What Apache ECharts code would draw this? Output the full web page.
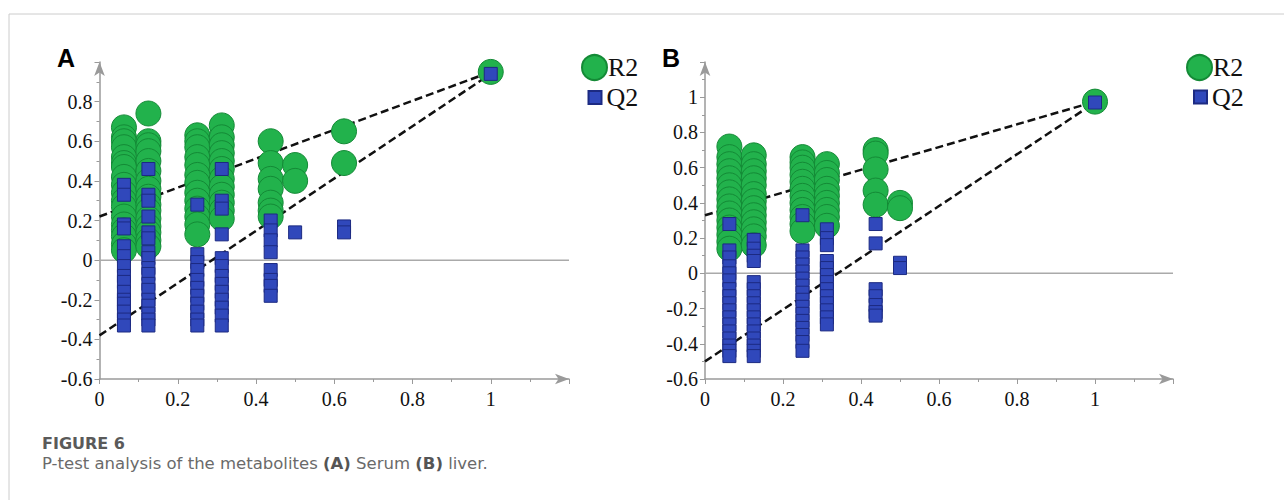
<!DOCTYPE html>
<html><head><meta charset="utf-8">
<script src="https://cdn.jsdelivr.net/npm/echarts@6/dist/echarts.min.js"></script>
<style>html,body{margin:0;padding:0;background:#fff}#c{width:1284px;height:500px}</style>
</head><body><div id="c"></div>
<script>
// ---- Data ----
const colsA = [0.0625, 0.125, 0.25, 0.3125, 0.4375, 0.5, 0.625, 1];
const r2A = [
  [0.67,0.62,0.60,0.57,0.52,0.49,0.47,0.42,0.38,0.34,0.30,0.27,0.22,0.18,0.15,0.12,0.08,0.05],
  [0.74,0.60,0.58,0.55,0.50,0.45,0.40,0.36,0.32,0.28,0.25,0.21,0.17,0.14,0.10,0.07],
  [0.63,0.60,0.57,0.52,0.48,0.43,0.39,0.34,0.30,0.26,0.22,0.18,0.13],
  [0.68,0.62,0.58,0.54,0.50,0.46,0.41,0.37,0.33,0.29,0.25,0.21],
  [0.60,0.49,0.41,0.36,0.29,0.25,0.22],
  [0.48,0.40],
  [0.65,0.49],
  [0.95]
];
const q2A = [
  [0.38,0.33,0.18,0.16,0.07,0.02,-0.03,-0.08,-0.11,-0.16,-0.20,-0.22,-0.26,-0.30,-0.33],
  [0.46,0.33,0.30,0.22,0.14,0.11,0.04,0.01,-0.04,-0.07,-0.12,-0.15,-0.20,-0.23,-0.27,-0.30,-0.33],
  [0.28,0.03,-0.01,-0.05,-0.10,-0.14,-0.18,-0.22,-0.26,-0.30,-0.33],
  [0.46,0.30,0.26,0.13,0.01,-0.03,-0.08,-0.12,-0.16,-0.20,-0.24,-0.28,-0.33],
  [0.20,0.15,0.10,0.04,-0.05,-0.10,-0.13,-0.18],
  [0.14],
  [0.17,0.14],
  [0.94]
];
const fitR2A = [0.22, 0.95];   // value at x=0, value at x=1
const fitQ2A = [-0.38, 0.94];

const colsB = [0.0625, 0.125, 0.25, 0.3125, 0.4375, 0.5, 1];
const r2B = [
  [0.72,0.66,0.62,0.58,0.54,0.50,0.46,0.42,0.38,0.34,0.30,0.26,0.22,0.18,0.14],
  [0.67,0.62,0.58,0.54,0.50,0.45,0.41,0.37,0.33,0.29,0.25,0.21,0.16],
  [0.66,0.63,0.60,0.56,0.52,0.48,0.44,0.40,0.36,0.32,0.28,0.24],
  [0.62,0.57,0.53,0.48,0.44,0.40,0.36,0.32,0.27],
  [0.70,0.68,0.59,0.47,0.39],
  [0.40,0.37],
  [0.975]
];
const q2B = [
  [0.28,0.13,0.09,0.04,0.00,-0.04,-0.09,-0.13,-0.17,-0.21,-0.25,-0.29,-0.33,-0.37,-0.41,-0.44,-0.47],
  [0.19,0.14,0.10,0.07,-0.05,-0.09,-0.13,-0.17,-0.21,-0.25,-0.29,-0.33,-0.37,-0.41,-0.44,-0.47],
  [0.33,0.13,0.09,0.05,0.01,-0.03,-0.07,-0.11,-0.15,-0.19,-0.23,-0.27,-0.31,-0.35,-0.39,-0.44],
  [0.25,0.20,0.16,0.07,0.03,-0.01,-0.05,-0.09,-0.13,-0.17,-0.21,-0.25,-0.29],
  [0.28,0.17,-0.09,-0.13,-0.18,-0.22,-0.24],
  [0.06,0.03],
  [0.97]
];
const fitR2B = [0.33, 0.975];
const fitQ2B = [-0.50, 0.97];

const yRangeA = [-0.6, 1.0];
const yRangeB = [-0.6, 1.2];
const xRange = [0, 1.2];

// ---- Build ----
function pts(cols, vals) {
  const out = [];
  cols.forEach((x, i) => vals[i].forEach(v => out.push([x, v])));
  return out;
}
const GREEN = '#22b24c', GREEN_B = '#148a36';
const BLUE = '#3048bb', BLUE_B = '#1c2a82';
const AXC = '#9a9a9a';
const SERIF = 'Liberation Serif';

function xAxis(gi) {
  return {
    type: 'value', gridIndex: gi, min: xRange[0], max: xRange[1], interval: 0.2,
    splitLine: {show: false},
    axisLine: {onZero: false, lineStyle: {color: AXC, width: 1.5}, symbol: ['none', 'arrow'], symbolSize: [8, 14]},
    axisTick: {length: 5, lineStyle: {color: AXC}},
    minorTick: {show: true, splitNumber: 2, length: 3, lineStyle: {color: AXC}},
    axisLabel: {showMaxLabel: false, margin: 10, fontFamily: SERIF, fontSize: 20, color: '#111',
      formatter: v => String(+v.toFixed(1))}
  };
}
function yAxis(gi, r) {
  return {
    type: 'value', gridIndex: gi, min: r[0], max: r[1], interval: 0.2,
    splitLine: {show: false},
    axisLine: {onZero: false, lineStyle: {color: AXC, width: 1.5}, symbol: ['none', 'arrow'], symbolSize: [8, 14]},
    axisTick: {length: 5, lineStyle: {color: AXC}},
    minorTick: {show: true, splitNumber: 2, length: 3, lineStyle: {color: AXC}},
    axisLabel: {showMaxLabel: false, margin: 7, fontFamily: SERIF, fontSize: 20, color: '#111',
      formatter: v => String(+v.toFixed(1))}
  };
}
function panelSeries(gi, cols, r2, q2, fr, fq) {
  const dashed = {color: '#111', width: 2.5, type: [8, 4]};
  return [
    {type: 'line', xAxisIndex: gi, yAxisIndex: gi, data: [[xRange[0], 0], [xRange[1], 0]],
      symbol: 'none', silent: true, lineStyle: {color: '#aaaaaa', width: 1.5}, z: 1},
    {type: 'line', xAxisIndex: gi, yAxisIndex: gi, data: [[0, fr[0]], [1, fr[1]]],
      symbol: 'none', silent: true, lineStyle: dashed, z: 2},
    {type: 'line', xAxisIndex: gi, yAxisIndex: gi, data: [[0, fq[0]], [1, fq[1]]],
      symbol: 'none', silent: true, lineStyle: dashed, z: 2},
    {name: 'R2', type: 'scatter', xAxisIndex: gi, yAxisIndex: gi, data: pts(cols, r2),
      symbol: 'circle', symbolSize: 25,
      itemStyle: {color: GREEN, borderColor: GREEN_B, borderWidth: 1, opacity: 1}, z: 3},
    {name: 'Q2', type: 'scatter', xAxisIndex: gi, yAxisIndex: gi, data: pts(cols, q2),
      symbol: 'rect', symbolSize: [13, 13],
      itemStyle: {color: BLUE, borderColor: BLUE_B, borderWidth: 1, opacity: 1}, z: 4}
  ];
}
function legend(name, icon, w, left, top, pad) {
  return {data: [name], icon: icon, itemWidth: w, itemHeight: w, left: left, top: top,
    padding: 0, selectedMode: false,
    textStyle: {fontFamily: SERIF, fontSize: 26, lineHeight: 26, color: '#111', padding: [0, 0, 0, pad]}};
}

const chart = echarts.init(document.getElementById('c'), null, {renderer: 'svg'});
chart.setOption({
  animation: false,
  backgroundColor: '#fff',
  grid: [
    {left: 99.5, top: 62, width: 469.5, height: 317},
    {left: 705, top: 62, width: 468, height: 317}
  ],
  xAxis: [xAxis(0), xAxis(1)],
  yAxis: [yAxis(0, yRangeA), yAxis(1, yRangeB)],
  legend: [
    legend('R2', 'circle', 25, 581, 54, -4),
    legend('Q2', 'rect', 13, 587.5, 84.5, 0),
    legend('R2', 'circle', 25, 1186, 54, -4),
    legend('Q2', 'rect', 13, 1193, 84, 0)
  ],
  series: [
    ...panelSeries(0, colsA, r2A, q2A, fitR2A, fitQ2A),
    ...panelSeries(1, colsB, r2B, q2B, fitR2B, fitQ2B)
  ],
  graphic: [
    {type: 'line', shape: {x1: 9, y1: 14, x2: 1284, y2: 14}, style: {stroke: '#cccccc', lineWidth: 1}, silent: true},
    {type: 'line', shape: {x1: 9, y1: 14, x2: 9, y2: 500}, style: {stroke: '#cccccc', lineWidth: 1}, silent: true},
    {type: 'text', left: 57, top: 45, style: {text: 'A', font: 'bold 25px "Liberation Sans"', fill: '#000'}},
    {type: 'text', left: 662, top: 45, style: {text: 'B', font: 'bold 25px "Liberation Sans"', fill: '#000'}},
    {type: 'text', left: 42, top: 435, style: {text: 'FIGURE 6', font: 'bold 16px "DejaVu Sans"', fill: '#5a5a5a'}},
    {type: 'text', left: 42, top: 455, style: {
      text: 'P-test analysis of the metabolites {b|(A)} Serum {b|(B)} liver.',
      font: '16.5px "DejaVu Sans"', fill: '#6a6a6a',
      rich: {b: {fontWeight: 'bold', fontFamily: 'DejaVu Sans', fontSize: 16.5, fill: '#555'}}
    }}
  ]
});
</script></body></html>
